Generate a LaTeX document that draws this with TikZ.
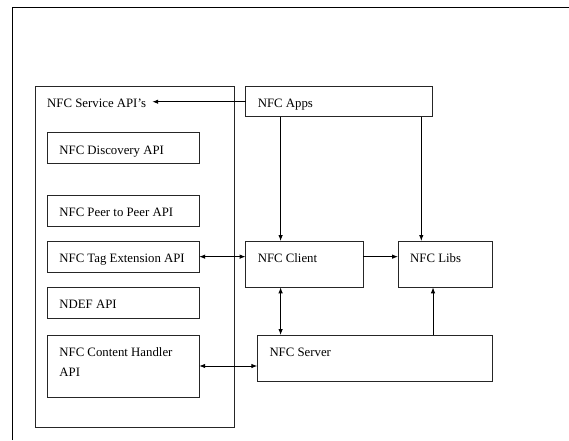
\documentclass[tikz,border=0pt]{standalone}
\usepackage{fontspec}
\setmainfont{Liberation Serif}
\usetikzlibrary{arrows.meta}
\begin{document}
\begin{tikzpicture}[x=1pt,y=-1pt,
  font=\fontsize{12.8pt}{20pt}\selectfont,
  box/.style={draw=black!85,line width=0.9pt,anchor=north west,inner sep=0pt,outer sep=0pt},
  lbl/.style={anchor=base west,inner sep=0pt,align=left},
  conn/.style={draw,line width=0.9pt,-{Latex[length=6pt,width=4.5pt]}},
  dconn/.style={draw,line width=0.9pt,{Latex[length=6pt,width=4.5pt]}-{Latex[length=6pt,width=4.5pt]}}]
\useasboundingbox (0,0) rectangle (569,440);
%frame
\draw[line width=1.5pt](12.3,440)--(12.3,7.3)--(569,7.3);
%left column
\node[box,minimum width=199.6pt,minimum height=341pt](svc)at(35.2,86.7){};
\node[lbl](svcT)at([shift={(11.8,21)}]svc.north west){NFC Service API's};
\node[box,minimum width=152pt,minimum height=30.6pt](disc)at(47.2,132.7){};
\node[box,minimum width=152pt,minimum height=31pt](peer)at(47.2,195){};
\node[box,minimum width=152pt,minimum height=31.3pt](tag)at(47.2,241){};
\node[box,minimum width=152pt,minimum height=31pt](ndef)at(47.2,287.3){};
\node[box,minimum width=152pt,minimum height=62pt](cnt)at(47.2,335){};
\node[lbl](discT)at([shift={(12,21.5)}]disc.north west){NFC Discovery API};
\node[lbl](peerT)at([shift={(12,21.5)}]peer.north west){NFC Peer to Peer API};
\node[lbl](tagT)at([shift={(12,21.5)}]tag.north west){NFC Tag Extension API};
\node[lbl](ndefT)at([shift={(12,21.5)}]ndef.north west){NDEF API};
%two lines: base is the last line
\node[lbl](cntT)at([shift={(12,41.5)}]cnt.north west){NFC Content Handler\\API};
%right side
\node[box,minimum width=187.3pt,minimum height=30pt](apps)at(245.6,86.7){};
\node[box,minimum width=117.6pt,minimum height=46.3pt](client)at(245.6,241){};
\node[box,minimum width=94.4pt,minimum height=46.3pt](libs)at(398,241){};
\node[box,minimum width=235.1pt,minimum height=46.7pt](server)at(257.3,335){};
\node[lbl](appsT)at([shift={(12,21)}]apps.north west){NFC Apps};
\node[lbl](clientT)at([shift={(12,21.5)}]client.north west){NFC Client};
\node[lbl](libsT)at([shift={(12,21.5)}]libs.north west){NFC Libs};
\node[lbl](serverT)at([shift={(12,21.5)}]server.north west){NFC Server};
%arrows
\draw[conn](apps.west)--([xshift=6pt]apps.west-|svcT.east);
\draw[conn]([xshift=35pt]apps.south west)--([xshift=35pt]client.north west);
\draw[conn]([xshift=23.3pt]libs.north west|-apps.south)--([xshift=23.3pt]libs.north west);
\draw[dconn](tag.east)--(client.west|-tag.east);
\draw[conn](client.east|-tag.east)--(libs.west|-tag.east);
\draw[dconn]([xshift=35pt]client.south west)--([xshift=35pt]client.south west|-server.north);
\draw[conn]([xshift=35pt]libs.south west|-server.north)--([xshift=35pt]libs.south west);
\draw[dconn](cnt.east)--(server.west|-cnt.east);
\end{tikzpicture}
\end{document}
